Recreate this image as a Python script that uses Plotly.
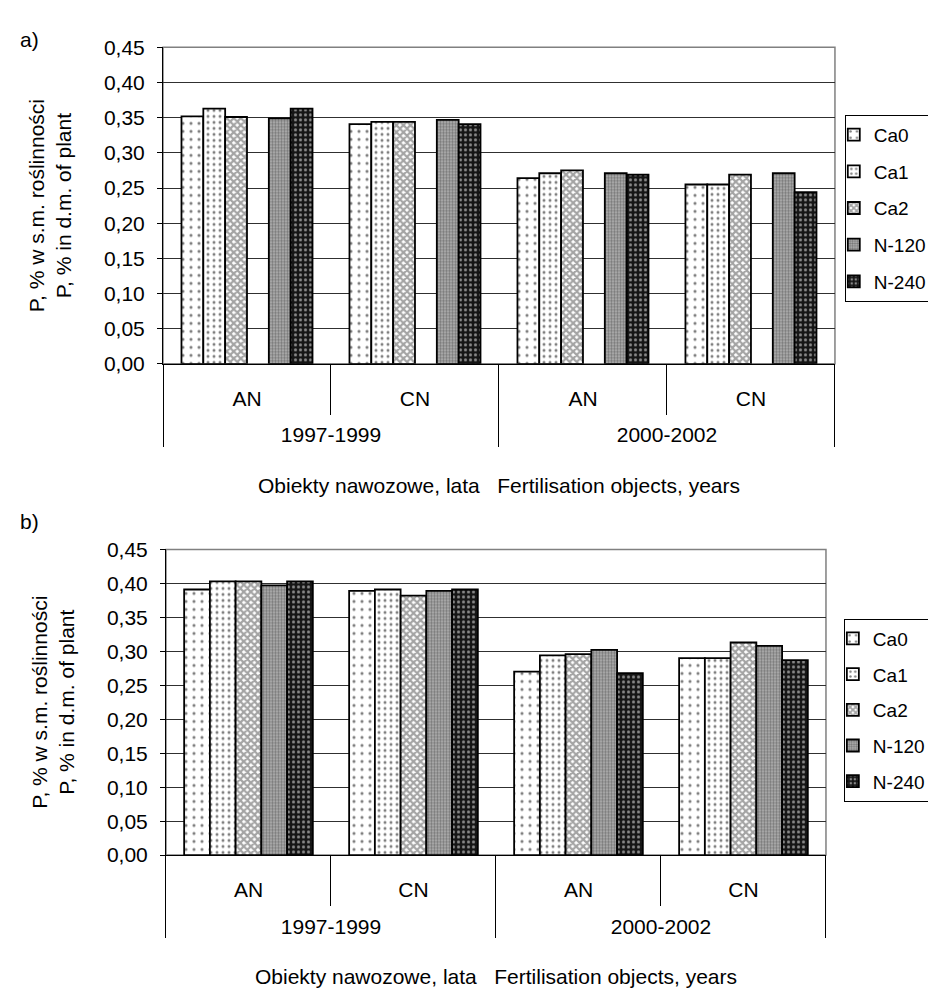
import plotly.graph_objects as go

# ---- data ----
years = ["1997-1999", "1997-1999", "2000-2002", "2000-2002"]
objects = ["AN", "CN", "AN", "CN"]
series_names = ["Ca0", "Ca1", "Ca2", "N-120", "N-240"]

# chart a)
a_ca0 = [0.352, 0.341, 0.264, 0.255]
a_ca1 = [0.363, 0.344, 0.271, 0.255]
a_ca2 = [0.351, 0.344, 0.275, 0.269]
a_blank = [None, None, None, None]
a_n120 = [0.349, 0.347, 0.271, 0.271]
a_n240 = [0.363, 0.341, 0.269, 0.244]

# chart b)
b_ca0 = [0.391, 0.389, 0.270, 0.290]
b_ca1 = [0.403, 0.391, 0.294, 0.290]
b_ca2 = [0.403, 0.382, 0.296, 0.313]
b_n120 = [0.397, 0.389, 0.302, 0.308]
b_n240 = [0.403, 0.391, 0.268, 0.287]

y_title = "P, % w s.m. roślinności<br>P, % in d.m. of plant"
x_title = "Obiekty nawozowe, lata\u00a0\u00a0\u00a0Fertilisation objects, years"

FONT = "Liberation Sans, Arial, sans-serif"
FS = 21

patterns = {
    "Ca0": dict(shape=".", bgcolor="white", fgcolor="black", size=8, solidity=0.12),
    "Ca1": dict(shape=".", bgcolor="white", fgcolor="black", size=6, solidity=0.2),
    "Ca2": dict(shape="x", bgcolor="white", fgcolor="#4a4a4a", size=5, solidity=0.7),
    "N-120": dict(shape=".", bgcolor="#b5b5b5", fgcolor="#383838", size=3, solidity=0.5),
    "N-240": dict(shape=".", bgcolor="#151515", fgcolor="white", size=5, solidity=0.3),
}

# second-level labels are pushed one line down (blank first line)
x_cat = [["<br>" + y for y in years], objects]

fig = go.Figure()

top_series = [("Ca0", a_ca0), ("Ca1", a_ca1), ("Ca2", a_ca2), ("", a_blank),
              ("N-120", a_n120), ("N-240", a_n240)]
for name, vals in top_series:
    if name == "":
        fig.add_trace(go.Bar(x=x_cat, y=vals, name=" ", showlegend=False,
                             marker=dict(color="white"), xaxis="x", yaxis="y"))
        continue
    fig.add_trace(go.Bar(
        x=x_cat, y=vals, name=name, legend="legend", legendgroup="a" + name,
        marker=dict(pattern=patterns[name], line=dict(color="black", width=1.8)),
        xaxis="x", yaxis="y"))

bottom_series = [("Ca0", b_ca0), ("Ca1", b_ca1), ("Ca2", b_ca2),
                 ("N-120", b_n120), ("N-240", b_n240)]
for name, vals in bottom_series:
    fig.add_trace(go.Bar(
        x=x_cat, y=vals, name=name, legend="legend2", legendgroup="b" + name,
        marker=dict(pattern=patterns[name], line=dict(color="black", width=1.8)),
        xaxis="x2", yaxis="y2"))


def xaxis_cfg(domain, anchor):
    return dict(
        domain=domain, anchor=anchor, type="multicategory",
        showline=True, linecolor="black", linewidth=1,
        ticks="outside", tickson="boundaries", ticklen=50, tickcolor="black",
        ticklabelstandoff=16,
        showdividers=True, dividercolor="black", dividerwidth=1,
        showgrid=False,
        tickfont=dict(size=FS, color="black", family=FONT),
        title=dict(text=x_title, font=dict(size=FS, color="black", family=FONT), standoff=32),
    )


def yaxis_cfg(domain, anchor):
    return dict(
        domain=domain, anchor=anchor, range=[0, 0.45], tick0=0, dtick=0.05,
        tickformat=".2f", showgrid=True, gridcolor="#303030", gridwidth=1,
        showline=True, linecolor="black", linewidth=1, ticks="outside",
        ticklen=5, tickcolor="black", zeroline=False, ticklabelstandoff=8,
        tickfont=dict(size=FS, color="black", family=FONT),
        title=dict(text=y_title, font=dict(size=FS, color="black", family=FONT), standoff=26),
    )


fig.update_layout(
    width=936, height=990,
    margin=dict(l=0, r=0, t=0, b=0),
    paper_bgcolor="white", plot_bgcolor="white",
    font=dict(family=FONT, size=FS, color="black"),
    separators=", ",
    barmode="group", bargap=0.22, bargroupgap=0,
    xaxis=xaxis_cfg([0.1656, 0.8835], "y"),
    yaxis=yaxis_cfg([0.6444, 0.9717], "x"),
    xaxis2=xaxis_cfg([0.1688, 0.8739], "y2"),
    yaxis2=yaxis_cfg([0.1364, 0.4525], "x2"),
    legend=dict(x=0.894, y=0.902, xanchor="left", yanchor="top", indentation=-12,
                bordercolor="black", borderwidth=1, bgcolor="white",
                tracegroupgap=9, font=dict(size=19, family=FONT, color="black")),
    legend2=dict(x=0.893, y=0.381, xanchor="left", yanchor="top", indentation=-12,
                 bordercolor="black", borderwidth=1, bgcolor="white",
                 tracegroupgap=8, font=dict(size=19, family=FONT, color="black")),
    shapes=[
        dict(type="rect", xref="x domain", yref="y domain", x0=0, x1=1, y0=0, y1=1,
             line=dict(color="#808080", width=1.5), layer="below"),
        dict(type="rect", xref="x2 domain", yref="y2 domain", x0=0, x1=1, y0=0, y1=1,
             line=dict(color="#808080", width=1.5), layer="below"),
    ],
    annotations=[
        dict(text="a)", xref="paper", yref="paper", x=0.011, y=1 - 20 / 990,
             xanchor="left", yanchor="middle", showarrow=False,
             font=dict(size=FS, family=FONT, color="black")),
        dict(text="b)", xref="paper", yref="paper", x=0.011, y=1 - 513 / 990,
             xanchor="left", yanchor="middle", showarrow=False,
             font=dict(size=FS, family=FONT, color="black")),
    ],
)

fig.write_html("out.html")
